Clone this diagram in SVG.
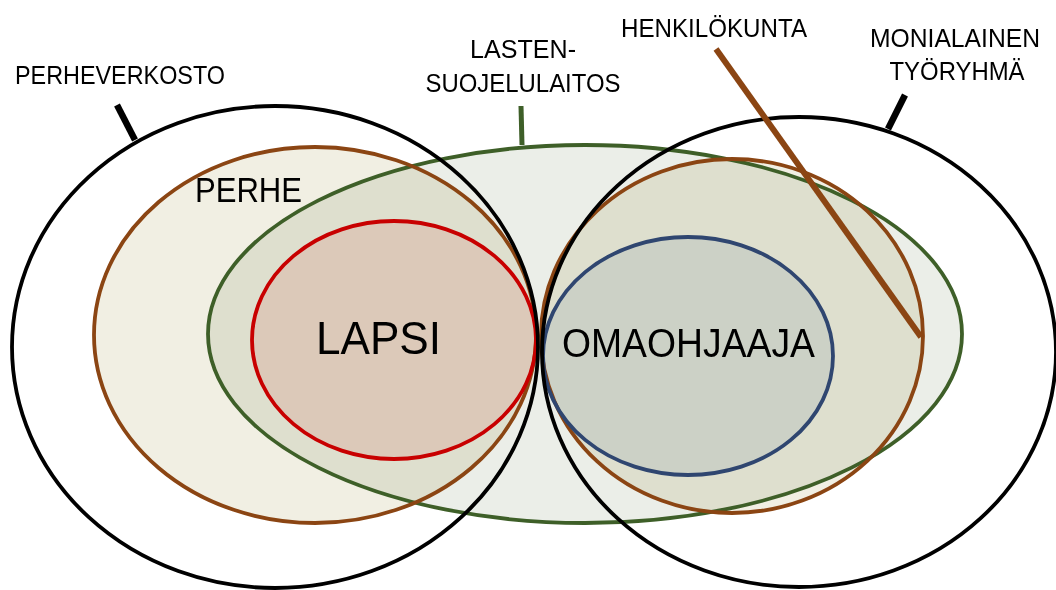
<svg xmlns="http://www.w3.org/2000/svg" width="1056" height="590" viewBox="0 0 1056 590">
<style>
.fill{mix-blend-mode:multiply;stroke:none}
.ol{fill:none;stroke-width:3.8}
.blk{stroke:#000}
.brn{stroke:#8b4513}
.grn{stroke:#3e5f28}
.red{stroke:#c80000}
.blu{stroke:#2f4670}
text{font-family:"Liberation Sans",Arial,sans-serif;fill:#000}
.lbl{font-size:26px}
</style>
<rect width="1056" height="590" fill="#fff"/>
<g id="fills">
<ellipse class="fill" cx="315" cy="335" rx="221" ry="188" fill="#f1efe3"/>
<ellipse class="fill" cx="585" cy="334" rx="377" ry="189" fill="#ebeee8"/>
<ellipse class="fill" cx="732" cy="336" rx="191" ry="177" fill="#f1efe3"/>
<ellipse class="fill" cx="394" cy="340" rx="142" ry="119" fill="#fde6e5"/>
<ellipse class="fill" cx="688" cy="356" rx="145" ry="119" fill="#ebeff5"/>
</g>
<g id="lastensuojelulaitos">
<ellipse class="ol grn" cx="585" cy="334" rx="377" ry="189"/>
<text class="lbl" x="523" y="58" text-anchor="middle" textLength="106" lengthAdjust="spacingAndGlyphs">LASTEN-</text>
<text class="lbl" x="523" y="92" text-anchor="middle" textLength="195" lengthAdjust="spacingAndGlyphs">SUOJELULAITOS</text>
</g>
<g id="perhe">
<ellipse class="ol brn" cx="315" cy="335" rx="221" ry="188"/>
<text x="195" y="202" font-size="35" textLength="107" lengthAdjust="spacingAndGlyphs">PERHE</text>
</g>
<g id="henkilokunta">
<ellipse class="ol brn" cx="732" cy="336" rx="191" ry="177"/>
<text class="lbl" x="714" y="37" text-anchor="middle" textLength="186" lengthAdjust="spacingAndGlyphs">HENKILÖKUNTA</text>
</g>
<g id="lapsi">
<ellipse class="ol red" cx="394" cy="340" rx="142" ry="119"/>
<text x="316" y="354" font-size="47" textLength="125" lengthAdjust="spacingAndGlyphs">LAPSI</text>
</g>
<g id="omaohjaaja">
<ellipse class="ol blu" cx="688" cy="356" rx="145" ry="119"/>
<text x="562" y="357" font-size="40" textLength="253" lengthAdjust="spacingAndGlyphs">OMAOHJAAJA</text>
</g>
<g id="perheverkosto">
<ellipse class="ol blk" cx="275" cy="347" rx="263" ry="241"/>
<text class="lbl" x="15" y="84" textLength="210" lengthAdjust="spacingAndGlyphs">PERHEVERKOSTO</text>
</g>
<g id="monialainen-tyoryhma">
<ellipse class="ol blk" cx="799" cy="352" rx="257" ry="235"/>
<text class="lbl" x="955" y="47" text-anchor="middle" textLength="170" lengthAdjust="spacingAndGlyphs">MONIALAINEN</text>
<text class="lbl" x="957" y="80" text-anchor="middle" textLength="135" lengthAdjust="spacingAndGlyphs">TYÖRYHMÄ</text>
</g>
<g id="connectors">
<line x1="117" y1="105" x2="135" y2="140" stroke="#000" stroke-width="6.5"/>
<line x1="521" y1="106" x2="522" y2="145" stroke="#3e5f28" stroke-width="5"/>
<line x1="905" y1="95" x2="888" y2="129" stroke="#000" stroke-width="6.5"/>
<line x1="716" y1="49" x2="921" y2="337" stroke="#8b4513" stroke-width="6"/>
</g>
</svg>
